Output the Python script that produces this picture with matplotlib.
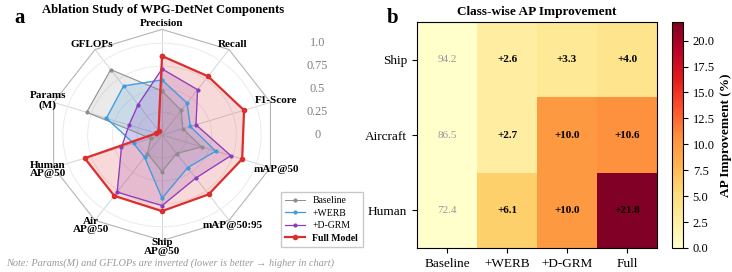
import matplotlib.pyplot as plt
import numpy as np

plt.rcParams['font.family'] = ['Liberation Serif', 'DejaVu Serif']

# panel a: radar (normalised scores, params/gflops inverted)
metrics = ['Precision', 'Recall', 'F1-Score', 'mAP@50', 'mAP@50:95',
           'Ship\nAP@50', 'Air\nAP@50', 'Human\nAP@50', 'Params\n(M)', 'GFLOPs']
baseline = [0.48, 0.33, 0.22, 0.42, 0.25, 0.40, 0.25, 0.12, 0.80, 0.88]
werb = [0.60, 0.43, 0.30, 0.57, 0.44, 0.69, 0.30, 0.30, 0.59, 0.66]
dgrm = [0.72, 0.61, 0.36, 0.73, 0.58, 0.77, 0.77, 0.43, 0.35, 0.41]
full = [0.86, 0.79, 0.87, 0.85, 0.80, 0.83, 0.82, 0.82, 0.06, 0.06]
r_ticks = [0, 0.25, 0.5, 0.75, 1.0]

# panel b: heatmap
classes = ['Ship', 'Aircraft', 'Human']
variants = ['Baseline', '+WERB', '+D-GRM', 'Full']
base_ap = [94.2, 86.5, 72.4]
gain_werb = [2.6, 2.7, 6.1]
gain_dgrm = [3.3, 10.0, 10.0]
gain_full = [4.0, 10.6, 21.8]

fig = plt.figure(figsize=(7.32, 2.72), dpi=100)

# ---- radar ----
ax = fig.add_axes([0.0656, 0.1158, 0.3115, 0.776], projection='polar')
ax.set_aspect('auto')
ax.set_theta_offset(np.pi / 2)
ax.set_theta_direction(-1)
n = len(metrics)
ang = np.linspace(0, 2 * np.pi, n, endpoint=False)
ang_c = np.append(ang, ang[0])
rmax = 1.15
ax.set_ylim(0, rmax)
ax.set_yticks(r_ticks[1:])
ax.set_yticklabels([])
ax.set_xticks(ang)
ax.set_xticklabels(metrics, fontsize=8, fontweight='bold', linespacing=0.95)
ax.tick_params(axis='x', pad=-6)
ax.yaxis.grid(True, color='#ebebeb', lw=0.7)
ax.xaxis.grid(True, color='#cdd5dc', lw=0.7)
ax.spines['polar'].set_visible(False)
ax.plot(ang_c, [rmax] * (n + 1), color='#b4b4b4', lw=0.8, clip_on=False, zorder=1)

series = [('Baseline', baseline, '#8c8c8c', 0.7, 2),
          ('+WERB', werb, '#3d9be0', 0.9, 2),
          ('+D-GRM', dgrm, '#8a3cc0', 0.9, 2),
          ('Full Model', full, '#dd2e2e', 1.6, 3)]
for name, vals, col, lw, ms in series:
    v = np.append(vals, vals[0])
    ax.plot(ang_c, v, color=col, lw=lw, marker='o', ms=ms, label=name, zorder=3)
    ax.fill(ang_c, v, color=col, alpha=0.18, zorder=2)

for r in r_ticks:
    ax.text(1.18, 0.5 + r / (2 * rmax), ('%g' % r) if r not in (0.5, 1.0) else ('%.1f' % r),
            transform=ax.transAxes, ha='center', va='center', fontsize=8.8, color='#808080')

leg = fig.legend(loc='lower right', bbox_to_anchor=(0.502, 0.074), fontsize=7,
                 frameon=True, fancybox=False, edgecolor='#bbbbbb', handlelength=2.0,
                 borderpad=0.45, labelspacing=0.35)
leg.get_texts()[-1].set_fontweight('bold')

fig.text(163 / 732, 1 - 10 / 272, 'Ablation Study of WPG-DetNet Components',
         ha='center', va='center', fontsize=9.1, fontweight='bold')
fig.text(20 / 732, 1 - 18 / 272, 'a', ha='center', va='center', fontsize=15, fontweight='bold')
fig.text(6 / 732, 1 - 263 / 272,
         'Note: Params(M) and GFLOPs are inverted (lower is better \u2192 higher in chart)',
         ha='left', va='center', fontsize=7.4, style='italic', color='#999999')

# ---- heatmap ----
hx = fig.add_axes([417 / 732, 1 - 248 / 272, 240 / 732, 226 / 272])
data = np.column_stack([np.zeros(len(classes)), gain_werb, gain_dgrm, gain_full])
im = hx.imshow(data, cmap='YlOrRd', vmin=0, vmax=max(gain_full), aspect='auto')
hx.set_xticks(range(len(variants)))
hx.set_xticklabels(variants, fontsize=9.5)
hx.set_yticks(range(len(classes)))
hx.set_yticklabels(classes, fontsize=9.5)
for i in range(len(classes)):
    hx.text(0, i, '%.1f' % base_ap[i], ha='center', va='center', fontsize=8, color='#999999')
    for j in range(1, len(variants)):
        hx.text(j, i, '+%.1f' % data[i, j], ha='center', va='center',
                fontsize=8, fontweight='bold', color='black')
fig.text(537 / 732, 1 - 12 / 272, 'Class-wise AP Improvement',
         ha='center', va='center', fontsize=9.5, fontweight='bold')
fig.text(393 / 732, 1 - 18 / 272, 'b', ha='center', va='center', fontsize=15, fontweight='bold')

cax = fig.add_axes([672 / 732, 1 - 248 / 272, 11 / 732, 226 / 272])
cb = fig.colorbar(im, cax=cax)
cb.set_ticks(np.arange(0, 21, 2.5))
cb.ax.tick_params(labelsize=9)
cb.set_label('AP Improvement (%)', fontsize=9.5, fontweight='bold')

fig.savefig('out.png', dpi=100)
